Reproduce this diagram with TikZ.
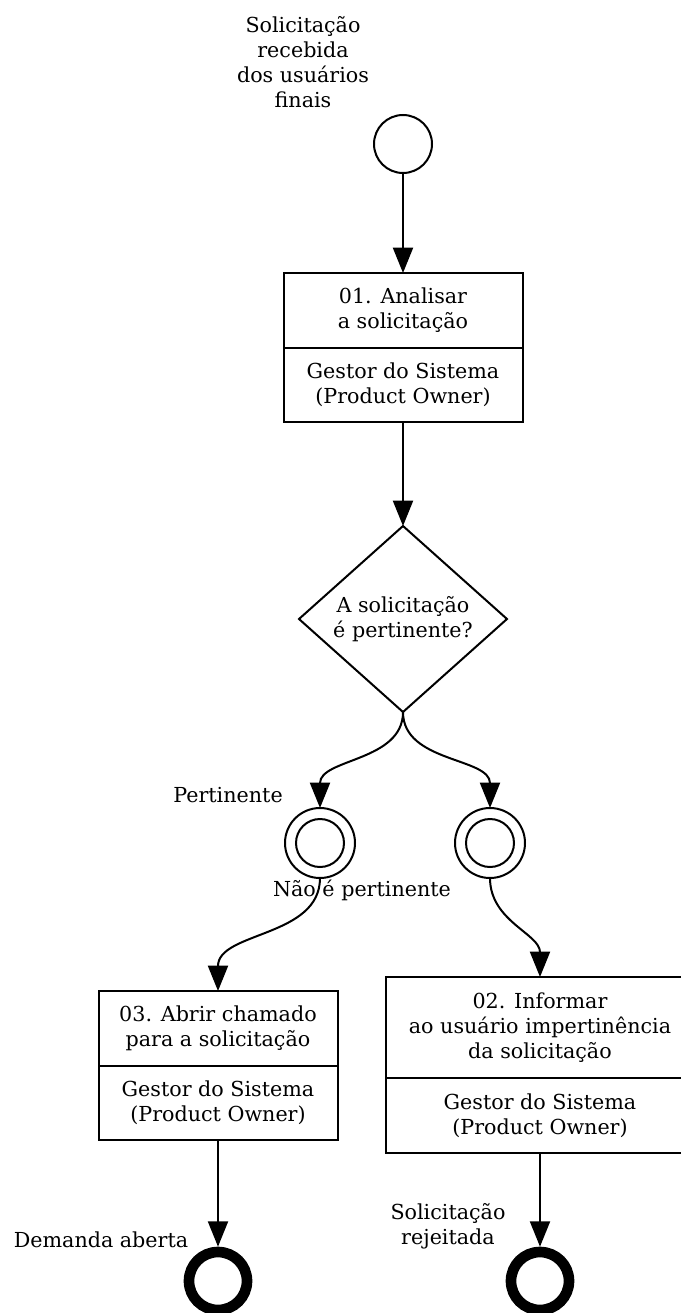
\documentclass[tikz,border=0pt]{standalone}
\usepackage{fontspec}
\setmainfont{DejaVu Serif}
\usetikzlibrary{arrows.meta,shapes.geometric}

\tikzset{every picture/.style={line width=1.5pt}}
\tikzset{
  txt/.style={font=\fontsize{15.5}{18.75}\selectfont, align=center, inner sep=0pt},
  flow/.style={-{Triangle[length=19pt,width=15pt]}},
  startev/.style={circle, draw, minimum size=43.5pt, inner sep=0pt, outer sep=0pt},
  midev/.style={circle, draw, minimum size=52.5pt, inner sep=0pt, outer sep=0pt},
  endev/.style={circle, draw, line width=8pt, minimum size=43.5pt, inner sep=0pt},
  taskbox/.style={txt, draw, rectangle, outer sep=0pt, minimum width=179.25pt, minimum height=56.25pt},
  rolebox/.style={taskbox, minimum height=55.5pt},
  gate/.style={txt, draw, diamond, outer sep=0pt, minimum width=156pt, minimum height=139.5pt}
}

\begin{document}
\begin{tikzpicture}[x=0.75pt,y=0.75pt,yscale=-1,xscale=1]
	\useasboundingbox (0,0) rectangle (681,1313);

	%Start event
	\node[startev] (start) at (403,144) {};
	\node[txt] (startlbl) at (303,62) {Solicitação\\recebida\\dos usuários\\finais};

	%Task 01
	\node[taskbox] (t1) at (403,310.5) {01. Analisar\\a solicitação};
	\node[rolebox] (r1) at (403,385) {Gestor do Sistema\\(Product Owner)};

	%Gateway
	\node[gate] (dia) at (403,619) {A solicitação\\é pertinente?};

	%Intermediate events
	\node[midev] (mid1) at (320,843) {};
	\draw (mid1.center) circle (18pt);
	\node[midev] (mid2) at (490,843) {};
	\draw (mid2.center) circle (18pt);

	% Text Node
	\node[txt] (pert) at (228,795) {Pertinente};
	% Text Node
	\node[txt] (npert) at (362,890) {Não é pertinente};

	%Task 03
	\node[taskbox] (t3) at (218,1028.5) {03. Abrir chamado\\para a solicitação};
	\node[rolebox] (r3) at (218,1103) {Gestor do Sistema\\(Product Owner)};

	%Task 02
	\node[taskbox, minimum width=231pt, minimum height=75.75pt] (t2) at (540,1027.5) {02. Informar\\ao usuário impertinência\\da solicitação};
	\node[rolebox, minimum width=231pt, minimum height=56.25pt] (r2) at (540,1115.5) {Gestor do Sistema\\(Product Owner)};

	%End events
	\node[endev] (end1) at (218,1281) {};
	\node[endev] (end2) at (540,1281) {};
	% Text Node
	\node[txt] (endlbl1) at (101,1240) {Demanda aberta};
	% Text Node
	\node[txt] (endlbl2) at (448,1226) {Solicitação\\rejeitada};

	%Flows
	\draw[flow] (start) -- (t1);
	\draw[flow] (r1) -- (dia);
	\draw[flow] (dia.south) to[out=90,in=-90] (mid1.north);
	\draw[flow] (dia.south) to[out=90,in=-90] (mid2.north);
	\draw[flow] (mid1.south) to[out=90,in=-90] (t3.north);
	\draw[flow] (mid2.south) to[out=90,in=-90] (t2.north);
	\draw[flow] (r3) -- (end1);
	\draw[flow] (r2) -- (end2);

\end{tikzpicture}
\end{document}
